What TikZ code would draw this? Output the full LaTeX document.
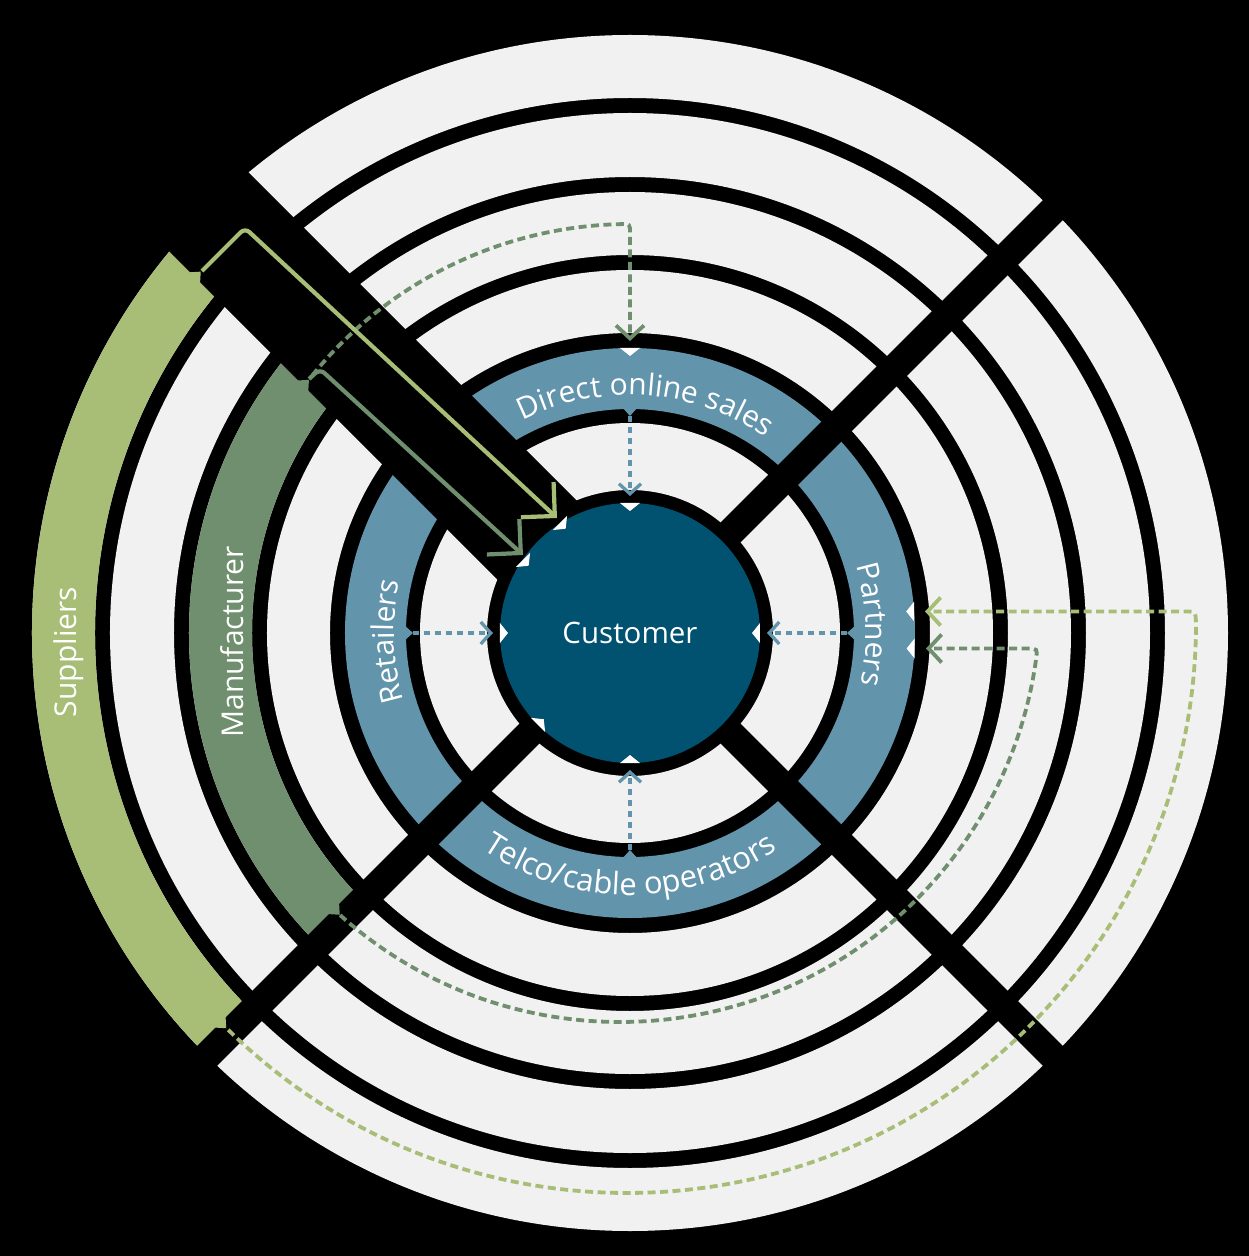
\documentclass[tikz,border=0pt]{standalone}
\usepackage{fontspec}
\setmainfont{Open Sans}
\usetikzlibrary{arrows.meta,decorations.text,calc}

\definecolor{ringgrey}{HTML}{F1F1F1}
\definecolor{channel}{HTML}{6294AC}
\definecolor{custblue}{HTML}{005270}
\definecolor{mfggreen}{HTML}{6F8F6E}
\definecolor{supgreen}{HTML}{A8BE76}

% full ring between two radii
\newcommand\ringfill[3]{\fill[#1,even odd rule] (0,0) circle[radius=#3pt] (0,0) circle[radius=#2pt];}
% ring sector: colour, start angle, end angle, inner radius, outer radius
\newcommand\bandpart[5]{\fill[#1] (#2:#4pt) arc[start angle=#2,end angle=#3,radius=#4pt] -- (#3:#5pt) arc[start angle=#3,end angle=#2,radius=#5pt] -- cycle;}
% white arrival mark: base centre, direction
\newcommand\whitetip[2]{\fill[white,shift={(#1)},rotate=#2] (0pt,-10pt) -- (8pt,0pt) -- (0pt,10pt) -- cycle;}
% small departure tab on a band: colour, base centre, direction
\newcommand\bandtab[3]{\fill[#1,shift={(#2)},rotate=#3] (-1pt,-8pt) -- (8pt,0pt) -- (-1pt,8pt) -- cycle;}
\newcommand\labelfont{\fontsize{30}{36}\selectfont\color{white}}
\newcommand\widelabelfont{\fontsize{31}{37}\selectfont\color{white}}

\begin{document}
\begin{tikzpicture}[x=1pt,y=1pt,
  bluedash/.style={draw=channel,line width=3.3pt,dash pattern=on 6.5pt off 4.5pt},
  mfgdash/.style={draw=mfggreen,line width=3.8pt,dash pattern=on 8pt off 4.5pt},
  supdash/.style={draw=supgreen,line width=3.8pt,dash pattern=on 8pt off 4.5pt},
  smallhead/.style={-{Straight Barb[length=10pt,width=22pt]}},
  midhead/.style={-{Straight Barb[length=13pt,width=28pt]}},
  bighead/.style={-{Straight Barb[length=24pt,width=48pt]}},
  flow/.style={line width=4.2pt,rounded corners=6pt,bighead},
  gap/.style={draw=black,line width=28pt},
  sidelabel/.style={text=white,font=\fontsize{30}{36}\selectfont,rotate=90,inner sep=0pt}
]
\useasboundingbox (-630,-623) rectangle (619,633);
\fill[black] (-630,-623) rectangle (619,633);

% concentric rings
\ringfill{ringgrey}{143}{210}
\ringfill{channel}{224}{285}
\ringfill{ringgrey}{300}{363}
\ringfill{ringgrey}{378}{441}
\ringfill{ringgrey}{456}{520}
\ringfill{ringgrey}{535}{598}
\bandpart{mfggreen}{135}{225}{378}{441}
\bandpart{supgreen}{135}{225}{535}{598}

% diagonal cuts
\draw[gap] (0,0) -- (45:660pt);
\draw[gap] (0,0) -- (-45:660pt);
\draw[gap] (0,0) -- (225:660pt);
\draw[gap,line width=112pt] (0,0) -- (135:660pt);

% customer
\node[circle,fill=custblue,minimum size=260pt,inner sep=0pt,text=white,
      font=\fontsize{29.5}{35}\selectfont] (cust) at (0,0) {Customer};

% departure tabs
\bandtab{channel}{90:225pt}{270}
\bandtab{channel}{180:225pt}{0}
\bandtab{channel}{0:225pt}{180}
\bandtab{channel}{270:225pt}{90}
\bandtab{supgreen}{-434.9,355.7}{45}
\bandtab{mfggreen}{-326.7,247.5}{45}
\bandtab{supgreen}{-409.4,-389.6}{-45}
\bandtab{mfggreen}{-295.9,-276.1}{-45}

% arrival marks
\whitetip{90:130pt}{270}
\whitetip{180:130pt}{0}
\whitetip{0:130pt}{180}
\whitetip{270:130pt}{90}
\whitetip{-70,110}{-45}
\whitetip{-107,73}{-45}
\whitetip{225:130pt}{45}
\whitetip{90:285pt}{270}
\whitetip{284.2,21.5}{180}
\whitetip{284.6,-15.5}{180}

% end points
\coordinate (dirIn) at (90:217pt);
\coordinate (retIn) at (180:217pt);
\coordinate (parIn) at (0:217pt);
\coordinate (telIn) at (270:217pt);
\coordinate (custN) at (90:137pt);
\coordinate (custW) at (180:137pt);
\coordinate (custE) at (0:137pt);
\coordinate (custS) at (270:137pt);
\coordinate (custA) at (-73,115);
\coordinate (custB) at (-107,78);
\coordinate (dirOut) at (90:292pt);
\coordinate (parHigh) at (295,21.5);
\coordinate (parLow) at (296,-15.5);
\coordinate (supTop) at (-428,362);
\coordinate (mfgTop) at (-321,254);
\coordinate (mfgArc) at (141:409pt);
\coordinate (mfgBot) at ($(-10,31)+(228.2:420pt)$);
\coordinate (supBot) at ($(-3,9)+(225.5:569pt)$);

% channel flows into the customer
\draw[bluedash,smallhead] (dirIn) -- (custN);
\draw[bluedash,smallhead] (retIn) -- (custW);
\draw[bluedash,smallhead] (parIn) -- (custE);
\draw[bluedash,smallhead] (telIn) -- (custS);

% manufacturer and supplier flows
\draw[mfgdash,midhead] (mfgArc) arc[start angle=141,end angle=91.2,radius=409pt]
  .. controls (0,409) .. (0,400) -- (dirOut);
\draw[mfgdash,midhead] (mfgBot) arc[start angle=228.2,end angle=352.2,radius=420pt]
  .. controls (407.5,-15.5) .. (397,-15.5) -- (parLow);
\draw[supdash,midhead] (supBot) arc[start angle=225.5,end angle=359.5,radius=569pt]
  .. controls (566,21.5) .. (556,21.5) -- (parHigh);
\draw[flow,draw=supgreen] (supTop) -- (-385,405) -- (custA);
\draw[flow,draw=mfggreen] (mfgTop) -- (-310,264) -- (custB);

% labels
\path[decorate,decoration={text along path,text align=center,
  text={|\labelfont|Direct online sales}}]
  (140:238pt) arc[start angle=140,end angle=32,radius=238pt];
\path[decorate,decoration={text along path,text align=center,
  text={|\widelabelfont|Telco/cable operators}}]
  (200:262pt) arc[start angle=200,end angle=340,radius=262pt];
\path[decorate,decoration={text along path,text align=center,
  text={|\labelfont|Partners}}]
  (40:236pt) arc[start angle=40,end angle=-36,radius=236pt];
\path[decorate,decoration={text along path,text align=center,
  text={|\labelfont|Retailers}}]
  (220:236pt) arc[start angle=220,end angle=144,radius=236pt];
\node[sidelabel] (suplabel) at (-561,-19) {Suppliers};
\node[sidelabel] (mfglabel) at (-398,-9) {Manufacturer};
\end{tikzpicture}
\end{document}
